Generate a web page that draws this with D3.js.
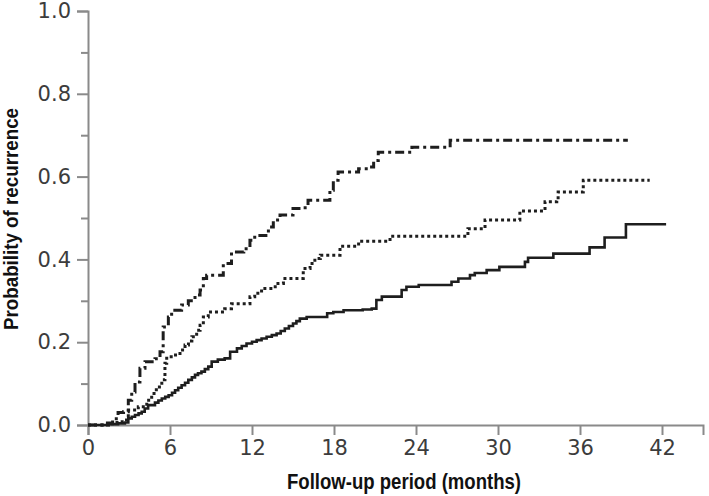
<!DOCTYPE html>
<html><head><meta charset="utf-8">
<script src="https://cdn.jsdelivr.net/npm/d3@7"></script>
<style>
html,body{margin:0;padding:0;background:#fff;}
svg{display:block;}
</style></head>
<body>
<svg id="chart" width="709" height="496"></svg>
<script>
// ---- data ----
const xTicks = [0, 6, 12, 18, 24, 30, 36, 42];
const yTicks = [0, 0.1, 0.2, 0.3, 0.4, 0.5, 0.6, 0.7, 0.8, 0.9, 1.0];
const xTitle = "Follow-up period (months)";
const yTitle = "Probability of recurrence";

const solidTimes = [0, 1.5, 2.2, 2.7, 2.95, 3.2, 3.44, 3.7, 3.93, 4.15, 4.4, 4.9, 5.15, 5.4, 5.65, 5.9, 6.15, 6.37, 6.6, 6.85, 7.1, 7.34, 7.6, 7.83, 8.05, 8.3, 8.55, 8.8, 9.05, 9.5, 10.0, 10.4, 10.9, 11.25, 11.6, 12.0, 12.34, 12.7, 13.07, 13.45, 13.8, 14.1, 14.4, 14.7, 15.0, 15.25, 15.5, 16.0, 17.5, 17.95, 18.7, 20.1, 20.76, 21.1, 21.5, 22.95, 23.3, 24.2, 26.6, 27.1, 27.95, 28.3, 29.17, 30.1, 31.97, 32.2, 34.05, 36.7, 37.8, 39.36, 42.3];
const solidValues = [0, 0.002, 0.004, 0.006, 0.016, 0.02, 0.024, 0.028, 0.032, 0.04, 0.048, 0.054, 0.059, 0.064, 0.068, 0.072, 0.078, 0.084, 0.09, 0.096, 0.102, 0.109, 0.115, 0.121, 0.125, 0.129, 0.135, 0.141, 0.153, 0.158, 0.161, 0.177, 0.185, 0.191, 0.197, 0.201, 0.205, 0.209, 0.213, 0.217, 0.221, 0.227, 0.233, 0.239, 0.245, 0.251, 0.257, 0.261, 0.27, 0.273, 0.277, 0.279, 0.281, 0.302, 0.31, 0.326, 0.334, 0.338, 0.346, 0.354, 0.362, 0.367, 0.374, 0.382, 0.394, 0.404, 0.414, 0.429, 0.453, 0.485, 0.485];

const dottedTimes = [0, 1.5, 2.0, 2.5, 2.95, 3.68, 4.3, 4.66, 5.0, 5.4, 5.63, 5.76, 6.24, 6.73, 7.1, 7.35, 7.6, 7.95, 8.2, 8.44, 8.8, 10.0, 10.5, 11.85, 12.2, 12.7, 13.56, 13.9, 14.3, 15.75, 16.25, 16.6, 17.0, 18.44, 19.8, 22.1, 27.8, 29.05, 31.6, 33.44, 34.3, 34.4, 36.24, 41.1];
const dottedValues = [0, 0.003, 0.006, 0.012, 0.036, 0.044, 0.06, 0.076, 0.092, 0.109, 0.149, 0.165, 0.169, 0.181, 0.193, 0.203, 0.213, 0.229, 0.241, 0.261, 0.273, 0.281, 0.293, 0.31, 0.318, 0.33, 0.334, 0.342, 0.354, 0.378, 0.39, 0.402, 0.41, 0.432, 0.444, 0.456, 0.474, 0.495, 0.517, 0.539, 0.543, 0.563, 0.591, 0.591];

const dashDotTimes = [0, 1.2, 1.8, 2.2, 2.6, 2.95, 3.2, 3.44, 3.8, 4.17, 4.9, 5.27, 5.5, 5.88, 6.12, 6.85, 7.34, 7.83, 8.2, 8.44, 8.68, 9.9, 10.5, 11.4, 11.85, 12.2, 13.2, 13.56, 14.05, 15.0, 15.75, 16.1, 17.7, 17.95, 18.3, 19.8, 20.5, 20.9, 21.24, 23.7, 26.5, 39.5];
const dashDotValues = [0, 0.005, 0.015, 0.03, 0.032, 0.06, 0.08, 0.104, 0.137, 0.153, 0.16, 0.177, 0.237, 0.261, 0.277, 0.29, 0.30, 0.314, 0.326, 0.354, 0.362, 0.39, 0.418, 0.426, 0.446, 0.458, 0.478, 0.495, 0.507, 0.523, 0.525, 0.543, 0.567, 0.591, 0.611, 0.619, 0.623, 0.639, 0.659, 0.671, 0.688, 0.688];

// ---- chart ----
const svg = d3.select("#chart");
const x = d3.scaleLinear().domain([0, 45]).range([88, 703]);
const y = d3.scaleLinear().domain([0, 1]).range([425, 11]);

const axisColor = "#8a8a8a";
const labelFont = "'DejaVu Sans', Verdana, sans-serif";

// y axis
const gy = svg.append("g").attr("transform", `translate(${x(0)},0)`)
  .call(d3.axisLeft(y).tickValues(yTicks).tickSizeOuter(0).tickSize(11).tickPadding(6)
    .tickFormat(d => (Math.round(d * 10) % 2 === 0) ? d3.format(".1f")(d) : ""));
gy.select(".domain").attr("stroke", axisColor).attr("stroke-width", 2);
gy.selectAll(".tick line").attr("stroke", axisColor).attr("stroke-width", 2)
  .attr("x2", d => (Math.round(d * 10) % 2 === 0) ? -11 : -7);
gy.selectAll(".tick text").attr("font-family", labelFont).attr("font-size", 21).attr("fill", "#3c3c3c");

// x axis
const gx = svg.append("g").attr("transform", `translate(0,${y(0)})`)
  .call(d3.axisBottom(x).tickValues(xTicks).tickSizeOuter(0).tickSize(10).tickPadding(5));
gx.select(".domain").attr("stroke", axisColor).attr("stroke-width", 2);
gx.selectAll(".tick line").attr("stroke", axisColor).attr("stroke-width", 2);
gx.selectAll(".tick text").attr("font-family", labelFont).attr("font-size", 21).attr("fill", "#3c3c3c");

// titles
const titleFont = "'Liberation Sans Narrow', 'Arial Narrow', 'Liberation Sans', Arial, sans-serif";
svg.append("text").attr("x", 404).attr("y", 489).attr("text-anchor", "middle")
  .attr("font-family", titleFont).attr("font-weight", "bold").attr("font-size", 21.5)
  .attr("textLength", 234).attr("lengthAdjust", "spacingAndGlyphs")
  .attr("fill", "#111").text(xTitle);
svg.append("text").attr("transform", "translate(18,219) rotate(-90)").attr("text-anchor", "middle")
  .attr("font-family", titleFont).attr("font-weight", "bold").attr("font-size", 20.5)
  .attr("textLength", 222).attr("lengthAdjust", "spacingAndGlyphs")
  .attr("fill", "#111").text(yTitle);

// curves
const line = d3.line().x(d => x(d[0])).y(d => y(d[1])).curve(d3.curveStepAfter);
const series = [
  { t: solidTimes, v: solidValues, dash: null, w: 2.6 },
  { t: dottedTimes, v: dottedValues, dash: "3,3", w: 3 },
  { t: dashDotTimes, v: dashDotValues, dash: "9,4,3,4", w: 3 }
];
series.forEach(s => {
  const pts = s.t.map((t, i) => [t, s.v[i]]);
  svg.append("path").datum(pts).attr("d", line)
    .attr("fill", "none").attr("stroke", "#1e1e1e").attr("stroke-width", s.w)
    .attr("stroke-dasharray", s.dash);
});
</script>
</body></html>
